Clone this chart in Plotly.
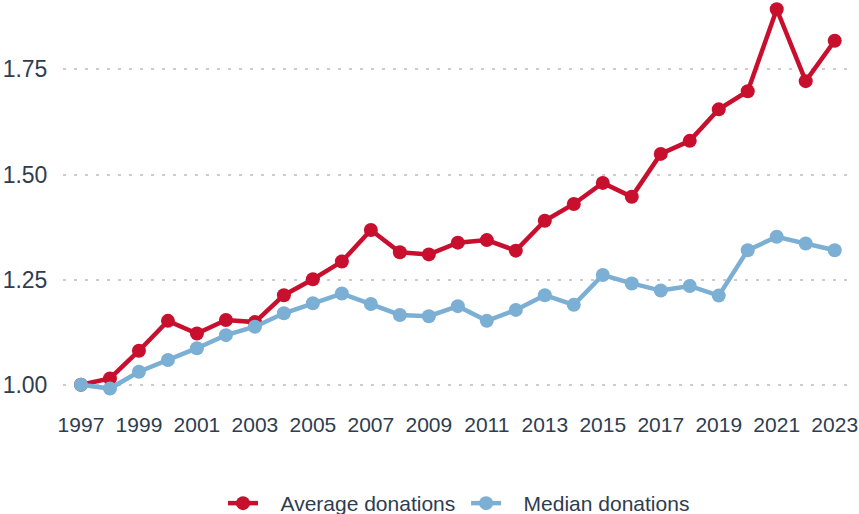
"""
Average vs median donations, indexed to 1997 = 1.00
"""

import plotly.graph_objects as go

years = list(range(1997, 2024))

average_donations = [
    1.000, 1.015, 1.081, 1.152, 1.122, 1.154, 1.149, 1.213, 1.251, 1.293,
    1.368, 1.315, 1.310, 1.338, 1.344, 1.319, 1.390, 1.430, 1.480, 1.447,
    1.549, 1.580, 1.655, 1.698, 1.893, 1.722, 1.818,
]

median_donations = [
    1.000, 0.991, 1.031, 1.059, 1.087, 1.118, 1.138, 1.170, 1.194, 1.217,
    1.192, 1.166, 1.163, 1.187, 1.152, 1.178, 1.213, 1.190, 1.261, 1.241,
    1.224, 1.235, 1.212, 1.320, 1.352, 1.336, 1.320,
]

x_ticks = list(range(1997, 2024, 2))
y_ticks = [1.00, 1.25, 1.50, 1.75]

RED = '#c8102e'
BLUE = '#7bafd4'
TEXT = '#2e3d4f'

# a bit of air between the legend swatch and its label
PAD = '\u00a0' * 3

fig = go.Figure()

# Average line
fig.add_trace(go.Scatter(
    x=years,
    y=average_donations,
    mode='lines+markers',
    name=PAD + 'Average donations\u00a0',
    line=dict(color=RED, width=4.5),
    marker=dict(size=14, color=RED)
))

# Median line
fig.add_trace(go.Scatter(
    x=years,
    y=median_donations,
    mode='lines+markers',
    name=PAD + 'Median donations',
    line=dict(color=BLUE, width=4.5),
    marker=dict(size=14, color=BLUE)
))

fig.update_layout(
    width=859,
    height=514,
    margin=dict(l=63, r=4, t=0, b=104, autoexpand=False),
    plot_bgcolor='white',
    paper_bgcolor='white',
    hovermode=False,
    font=dict(family='Liberation Sans, Arial, sans-serif', size=21, color=TEXT),
    xaxis=dict(
        range=[1996.38, 2023.7],
        tickvals=x_ticks,
        showgrid=False,
        zeroline=False,
        showline=False,
        automargin=False,
        ticks='',
        tickfont=dict(size=21),
    ),
    yaxis=dict(
        range=[0.94, 1.915],
        tickvals=y_ticks,
        tickformat='.2f',
        showgrid=True,
        gridcolor='#cccccc',
        gridwidth=2,
        griddash='3px,8px',
        zeroline=False,
        showline=False,
        automargin=False,
        ticks='outside',
        ticklen=10,
        tickcolor='rgba(0,0,0,0)',
        tickfont=dict(size=23),
    ),
    legend=dict(
        orientation='h',
        x=0.5,
        xanchor='center',
        y=-0.178,
        yanchor='top',
        font=dict(size=21, color=TEXT),
    ),
    showlegend=True,
)

# page body has a default 8px margin; drop it so the figure sits at the corner
fig.write_html(
    "out.html",
    config={'displayModeBar': False},
    post_script="document.body.style.margin='0';",
)
